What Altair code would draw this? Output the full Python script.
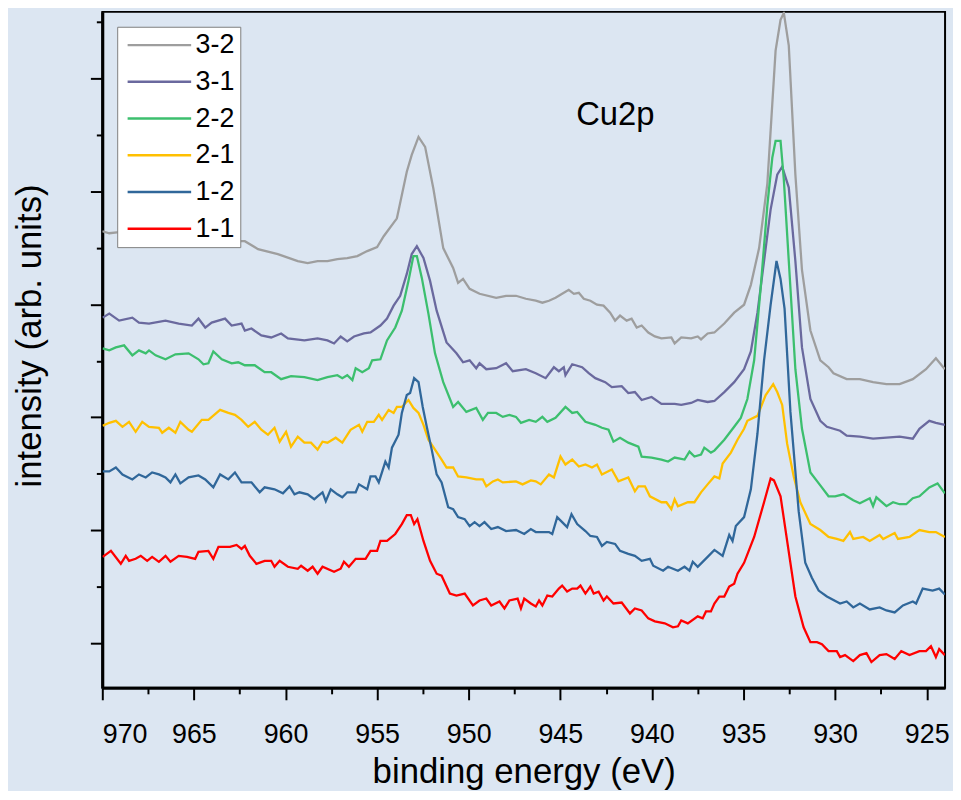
import altair as alt
import pandas as pd

# ---------------- data ----------------
series = ["3-2", "3-1", "2-2", "2-1", "1-2", "1-1"]
colors = ["#9e9e9e", "#6a699e", "#3cbf6e", "#ffc000", "#30679a", "#ff0000"]

e_32 = [970.00, 969.62, 969.08, 968.0, 967.0, 966.0, 965.0, 964.0, 963.0, 962.40, 962.22,
        961.50, 960.42, 959.33, 958.79, 958.25, 957.71, 957.17, 956.63, 956.08, 955.54,
        955.00, 954.64, 953.92, 953.38, 953.11, 952.74, 952.38, 951.93, 951.39, 950.85,
        950.58, 950.31, 949.95, 949.41, 948.50, 947.96, 947.42, 946.88, 946.34, 945.98,
        945.62, 945.26, 944.90, 944.54, 944.26, 943.99, 943.72, 943.36, 943.00, 942.64,
        942.28, 942.01, 941.74, 941.38, 941.11, 940.83, 940.56, 940.20, 939.84, 939.48,
        938.94, 938.76, 938.40, 937.86, 937.50, 937.32, 936.96, 936.59, 936.05, 935.51,
        934.97, 934.60, 934.15, 933.70, 933.25, 932.98, 932.80, 932.53, 932.17, 931.81,
        931.35, 930.81, 930.36, 930.09, 929.37, 928.65, 927.93, 927.20, 926.48, 925.76,
        925.04, 924.50, 924.01]
i_32 = [457, 455, 456, 452, 450, 449, 450, 447, 446, 447, 447,
        439, 434, 427, 425, 427, 427, 429, 430, 432, 437,
        441, 452, 470, 517, 534, 552, 542, 500, 440, 420,
        405, 409, 399, 394, 390, 392, 392, 389, 387, 385,
        387, 390, 394, 398, 394, 395, 389, 387, 383, 382,
        375, 367, 372, 367, 369, 360, 362, 355, 351, 349,
        350, 344, 350, 349, 351, 348, 354, 355, 364, 375,
        383, 403, 440, 505, 639, 670, 677, 644, 514, 418,
        357, 327, 320, 314, 308, 308, 305, 303, 303, 308,
        318, 329, 318]

e_31 = [969.98, 969.62, 969.08, 968.36, 968.00, 967.45, 966.55, 965.83, 965.11, 964.75,
        964.38, 964.03, 963.30, 962.94, 962.40, 962.22, 961.86, 961.32, 960.78, 960.24,
        959.87, 958.97, 958.25, 957.71, 957.35, 956.99, 956.63, 956.26, 955.72, 955.36,
        954.82, 954.46, 954.10, 953.74, 953.38, 953.11, 952.83, 952.47, 952.11, 951.75,
        951.21, 950.67, 950.31, 949.95, 949.59, 949.41, 949.04, 948.50, 947.96, 947.60,
        946.88, 946.34, 945.80, 945.35, 945.08, 944.81, 944.72, 944.35, 943.81, 943.45,
        943.09, 942.55, 942.19, 941.65, 941.29, 940.93, 940.56, 940.02, 939.48, 938.76,
        938.40, 937.86, 937.50, 936.96, 936.59, 936.05, 935.51, 934.97, 934.60, 934.24,
        933.88, 933.52, 933.16, 932.89, 932.53, 932.17, 931.81, 931.35, 930.81, 930.45,
        929.73, 929.37, 928.65, 927.93, 927.20, 926.48, 925.76, 925.40, 924.86, 924.50,
        924.01]
i_31 = [370, 374, 367, 370, 365, 364, 367, 364, 362, 369,
        360, 365, 369, 362, 364, 357, 359, 352, 350, 354,
        349, 347, 349, 347, 344, 351, 346, 351, 354, 355,
        362, 369, 382, 392, 414, 434, 442, 430, 407, 377,
        345, 334, 325, 327, 319, 324, 318, 319, 324, 316,
        318, 314, 309, 320, 316, 320, 312, 323, 320, 314,
        309, 305, 300, 301, 294, 295, 287, 290, 283, 283,
        282, 284, 287, 285, 286, 295, 305, 318, 336, 375,
        427, 479, 514, 522, 501, 427, 340, 288, 266, 260,
        256, 251, 250, 248, 249, 250, 248, 258, 266, 264,
        262]

e_22 = [969.98, 969.62, 969.26, 968.81, 968.36, 968.00, 967.63, 967.45, 967.09, 966.55,
        966.01, 965.29, 964.75, 964.48, 964.21, 963.94, 963.48, 962.94, 962.58, 962.22,
        961.68, 961.14, 960.78, 960.24, 959.70, 958.97, 958.25, 957.71, 957.17, 956.90,
        956.63, 956.35, 956.17, 955.81, 955.45, 955.27, 954.82, 954.46, 954.01, 953.65,
        953.29, 953.02, 952.83, 952.56, 952.20, 951.84, 951.39, 950.85, 950.58, 950.13,
        949.59, 949.23, 948.95, 948.50, 948.14, 947.78, 947.42, 947.15, 946.70, 946.34,
        945.98, 945.71, 945.26, 944.72, 944.35, 944.08, 943.63, 943.09, 942.73, 942.37,
        942.10, 941.74, 941.29, 940.74, 940.56, 940.02, 939.48, 939.12, 938.76, 938.22,
        937.95, 937.68, 937.32, 937.14, 936.78, 936.59, 936.05, 935.51, 935.15, 934.79,
        934.42, 934.06, 933.70, 933.43, 933.25, 932.98, 932.80, 932.53, 932.17, 931.81,
        931.35, 930.81, 930.36, 930.00, 929.55, 929.01, 928.65, 928.11, 927.93, 927.75,
        927.20, 926.84, 926.48, 926.12, 925.76, 925.40, 924.86, 924.41, 924.01]
i_22 = [339, 337, 340, 342, 332, 337, 334, 337, 332, 328,
        333, 334, 328, 323, 324, 336, 328, 324, 325, 322,
        322, 315, 315, 308, 311, 310, 307, 310, 312, 309,
        312, 307, 319, 315, 319, 327, 328, 347, 360, 377,
        407, 432, 432, 410, 374, 334, 305, 280, 285, 275,
        279, 267, 274, 274, 270, 272, 270, 264, 267, 265,
        270, 265, 269, 280, 274, 275, 265, 262, 259, 257,
        245, 249, 244, 240, 230, 229, 227, 225, 229, 227,
        235, 230, 232, 239, 234, 236, 247, 260, 269, 288,
        327, 401, 483, 531, 548, 548, 509, 427, 318, 258,
        214, 201, 190, 190, 192, 186, 183, 188, 180, 189,
        180, 184, 182, 182, 188, 190, 199, 203, 193]

e_21 = [969.98, 969.62, 969.26, 968.90, 968.54, 968.18, 967.82, 967.45, 966.91, 966.73,
        966.37, 966.01, 965.74, 965.29, 965.11, 964.57, 964.21, 963.57, 963.12, 962.76,
        962.40, 962.04, 961.68, 961.32, 960.96, 960.60, 960.32, 959.97, 959.70, 959.33,
        958.97, 958.61, 958.25, 957.98, 957.71, 957.26, 956.90, 956.45, 955.99, 955.81,
        955.54, 955.18, 954.91, 954.73, 954.37, 954.10, 953.92, 953.65, 953.29, 953.02,
        952.74, 952.47, 952.20, 951.84, 951.48, 951.21, 950.85, 950.58, 950.13, 949.59,
        949.23, 949.04, 948.68, 948.41, 948.14, 947.42, 947.06, 946.61, 946.34, 946.07,
        945.62, 945.35, 944.99, 944.72, 944.35, 943.99, 943.63, 943.27, 943.00, 942.73,
        942.19, 941.83, 941.29, 940.93, 940.74, 940.38, 940.11, 939.48, 939.21, 938.94,
        938.76, 938.58, 938.04, 937.68, 937.32, 936.96, 936.59, 936.32, 936.14, 935.69,
        935.33, 934.97, 934.79, 934.24, 933.79, 933.38, 933.16, 932.89, 932.62, 932.26,
        931.90, 931.35, 930.81, 930.36, 929.91, 929.55, 929.19, 929.01, 928.47, 928.11,
        927.57, 927.38, 926.75, 926.57, 925.94, 925.40, 924.86, 924.50, 924.01]
i_21 = [261, 264, 266, 260, 265, 255, 265, 260, 259, 254,
        259, 254, 265, 257, 255, 267, 267, 277, 274, 272,
        267, 260, 265, 257, 252, 259, 245, 255, 240, 250,
        244, 244, 237, 245, 244, 249, 244, 257, 262, 255,
        265, 265, 272, 267, 277, 274, 280, 280, 287, 279,
        274, 262, 247, 237, 227, 219, 219, 210, 209, 207,
        207, 200, 205, 207, 204, 205, 202, 206, 205, 202,
        212, 209, 230, 222, 227, 220, 222, 219, 222, 212,
        217, 205, 209, 195, 200, 200, 190, 184, 184, 177,
        187, 180, 184, 184, 194, 202, 210, 208, 223, 234,
        247, 258, 266, 271, 292, 303, 295, 282, 243, 210,
        184, 162, 156, 149, 147, 145, 154, 147, 149, 145,
        151, 147, 153, 147, 149, 156, 154, 154, 149]

e_12 = [969.98, 969.62, 969.26, 968.90, 968.36, 968.00, 967.63, 967.28, 966.91, 966.55,
        966.28, 966.01, 965.74, 965.29, 964.75, 964.38, 963.94, 963.57, 963.12, 962.76,
        962.40, 961.86, 961.41, 961.14, 960.60, 960.14, 959.78, 959.51, 959.24, 958.79,
        958.43, 958.25, 957.98, 957.80, 957.53, 957.17, 956.90, 956.63, 956.17, 955.99,
        955.54, 955.36, 955.09, 954.91, 954.55, 954.37, 954.19, 953.83, 953.65, 953.38,
        953.20, 952.98, 952.74, 952.51, 952.29, 952.02, 951.75, 951.48, 951.12, 950.85,
        950.58, 950.22, 949.95, 949.68, 949.41, 949.14, 948.77, 948.41, 947.96, 947.42,
        946.97, 946.61, 946.34, 945.62, 945.44, 945.17, 944.90, 944.63, 944.39, 944.08,
        943.63, 943.36, 943.00, 942.73, 942.46, 942.01, 941.74, 941.29, 940.93, 940.56,
        940.11, 939.93, 939.39, 939.12, 938.58, 938.22, 937.95, 937.77, 937.50, 936.96,
        936.59, 936.14, 935.78, 935.60, 935.42, 934.97, 934.60, 934.24, 933.88, 933.52,
        933.20, 932.98, 932.76, 932.44, 931.99, 931.63, 931.27, 930.90, 930.45, 929.73,
        929.37, 929.01, 928.65, 928.11, 927.57, 927.20, 926.75, 926.30, 925.76, 925.58,
        925.22, 924.68, 924.32, 924.01]
i_12 = [215, 215, 219, 212, 207, 212, 209, 214, 212, 209,
        204, 212, 203, 209, 211, 207, 199, 212, 207, 214,
        204, 204, 194, 199, 197, 193, 200, 192, 194, 192,
        187, 190, 194, 185, 197, 192, 189, 194, 194, 202,
        197, 210, 210, 204, 225, 219, 239, 252, 274, 292,
        294, 309, 305, 280, 260, 237, 212, 204, 179, 177,
        169, 167, 160, 164, 160, 164, 157, 159, 155, 156,
        152, 157, 154, 154, 152, 169, 164, 159, 172, 162,
        155, 150, 149, 140, 144, 142, 135, 132, 130, 125,
        127, 120, 115, 119, 115, 119, 115, 124, 119, 129,
        136, 130, 151, 145, 160, 169, 197, 253, 327, 383,
        427, 409, 379, 275, 175, 123, 108, 95, 89, 82,
        84, 78, 82, 76, 78, 75, 73, 80, 84, 82,
        97, 95, 97, 91]

e_11 = [969.98, 969.53, 968.99, 968.72, 968.54, 968.18, 967.90, 967.55, 967.28, 966.91,
        966.55, 966.28, 965.83, 965.38, 964.93, 964.75, 964.21, 963.94, 963.66, 963.03,
        962.67, 962.40, 962.22, 961.95, 961.59, 961.14, 960.78, 960.60, 960.32, 959.87,
        959.33, 959.15, 958.79, 958.52, 958.25, 957.98, 957.35, 956.99, 956.81, 956.54,
        956.17, 955.63, 955.36, 955.00, 954.82, 954.46, 954.01, 953.65, 953.38, 953.16,
        952.98, 952.80, 952.47, 952.11, 951.75, 951.48, 951.03, 950.67, 950.22, 949.77,
        949.41, 949.04, 948.77, 948.32, 948.05, 947.78, 947.33, 947.15, 946.97, 946.61,
        946.34, 946.16, 945.98, 945.71, 945.44, 945.08, 944.90, 944.63, 944.35, 944.08,
        943.90, 943.63, 943.36, 943.18, 942.91, 942.64, 942.46, 942.10, 941.65, 941.20,
        940.93, 940.56, 940.20, 939.84, 939.30, 938.85, 938.58, 938.40, 938.04, 937.50,
        937.23, 937.05, 936.78, 936.59, 936.32, 936.05, 935.78, 935.51, 935.33, 934.97,
        934.42, 933.88, 933.52, 933.34, 932.98, 932.62, 932.17, 931.72, 931.35, 930.99,
        930.72, 930.36, 929.91, 929.73, 929.46, 929.01, 928.65, 928.29, 928.02, 927.57,
        927.20, 926.75, 926.39, 925.94, 925.40, 925.04, 924.77, 924.50, 924.32, 924.01]
i_11 = [129, 135, 122, 130, 125, 127, 130, 125, 129, 124,
        130, 124, 130, 129, 127, 134, 135, 127, 139, 139,
        141, 137, 140, 130, 122, 125, 125, 119, 125, 119,
        117, 120, 115, 119, 112, 119, 114, 117, 124, 119,
        127, 127, 135, 135, 145, 145, 152, 162, 171, 171,
        162, 167, 145, 125, 112, 110, 92, 90, 92, 80,
        85, 87, 80, 84, 77, 85, 87, 77, 87, 82,
        79, 85, 80, 90, 89, 97, 100, 94, 97, 97,
        100, 92, 99, 92, 94, 85, 89, 82, 83, 72,
        77, 75, 67, 64, 62, 58, 59, 65, 62, 69,
        67, 74, 74, 82, 89, 89, 99, 102, 112, 123,
        149, 184, 208, 206, 190, 145, 89, 58, 43, 43,
        41, 34, 34, 28, 30, 24, 30, 32, 23, 30,
        31, 26, 34, 30, 34, 34, 39, 28, 36, 30]

# axis ticks
x_major = [970, 965, 960, 955, 950, 945, 940, 935, 930, 925]
x_minor = [967.5, 962.5, 957.5, 952.5, 947.5, 942.5, 937.5, 932.5, 927.5]
y_major = [42.0, 155.8, 269.6, 383.4, 497.2, 611.0]
y_minor = [98.9, 212.7, 326.5, 440.3, 554.1, 667.9]

label_text = ["Cu2p"]
label_e = [942.0]
label_i = [564]

# ---------------- build tables ----------------
energy_lists = [e_32, e_31, e_22, e_21, e_12, e_11]
intens_lists = [i_32, i_31, i_22, i_21, i_12, i_11]
rows = []
for s, es, ins in zip(series, energy_lists, intens_lists):
    for e, v in zip(es, ins):
        rows.append({"sample": s, "energy": e, "intensity": v})
df = pd.DataFrame(rows)
df_label = pd.DataFrame({"energy": label_e, "intensity": label_i, "text": label_text})

FONT = "Liberation Sans"
y_major_test = "indexof([" + ",".join(str(v) for v in y_major) + "], datum.value) >= 0"

x_enc = alt.X(
    "energy:Q",
    scale=alt.Scale(domain=[970, 924], nice=False, zero=False),
    axis=alt.Axis(
        values=sorted(x_major + x_minor, reverse=True),
        labelExpr="datum.value % 5 == 0 ? format(datum.value, 'd') : ''",
        labelOverlap=False,
        tickSize={"condition": {"test": "datum.value % 5 == 0", "value": 12}, "value": 6},
        labelPadding=22,
        labelFontSize=27,
        labelFont=FONT,
        labelColor="black",
        title="binding energy (eV)",
        titleFontSize=35,
        titleFont=FONT,
        titleFontWeight="normal",
        titleColor="black",
        titleBaseline="alphabetic",
        titleY=95,
        grid=False,
    ),
)
y_enc = alt.Y(
    "intensity:Q",
    scale=alt.Scale(domain=[-3, 678], nice=False, zero=False),
    axis=alt.Axis(
        values=sorted(y_major + y_minor),
        labels=False,
        tickSize={"condition": {"test": y_major_test, "value": 12}, "value": 6},
        title="intensity (arb. units)",
        titleFontSize=35,
        titleFont=FONT,
        titleFontWeight="normal",
        titleColor="black",
        titleBaseline="alphabetic",
        titleAngle=270,
        titleAlign="center",
        titleX=-62,
        titleY=326,
        grid=False,
    ),
)

lines = alt.Chart(df).mark_line(strokeWidth=2.3, clip=True).encode(
    x=x_enc,
    y=y_enc,
    color=alt.Color(
        "sample:N",
        scale=alt.Scale(domain=series, range=colors),
        sort=series,
        legend=alt.Legend(
            title=None,
            orient="none",
            legendX=15,
            legendY=15,
            fillColor="white",
            strokeColor="#7f7f7f",
            padding=5,
            labelFontSize=27,
            labelFont=FONT,
            labelColor="black",
            symbolType="M-1,0H7",
            symbolSize=256,
            symbolStrokeWidth=2.5,
            rowPadding=9,
            labelOffset=47,
            labelLimit=0,
        ),
    ),
)

label = alt.Chart(df_label).mark_text(
    fontSize=33, font=FONT, color="black", align="center", baseline="alphabetic"
).encode(x=x_enc, y=y_enc, text="text:N")

chart = (
    alt.layer(lines, label)
    .properties(
        width=849,
        height=681,
        padding={"left": 95, "top": 1, "right": 8, "bottom": 101},
        autosize=alt.AutoSizeParams(type="none"),
        background="#dce6f2",
    )
    .configure_view(stroke="black", strokeWidth=2)
    .configure_axis(
        domainColor="black",
        domainWidth=3,
        tickColor="black",
        tickWidth=2,
    )
)

chart.save("out.html", embed_options={"renderer": "svg", "actions": False})
